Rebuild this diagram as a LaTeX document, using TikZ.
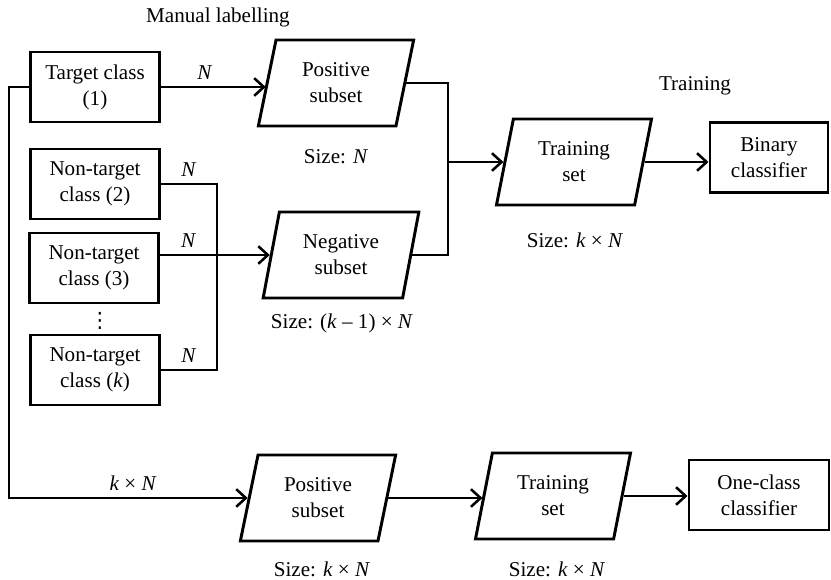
\documentclass[tikz,border=0pt]{standalone}
\usepackage{fontspec}
\setmainfont{Liberation Serif}
\newfontfamily\symfont{DejaVu Sans}
\usepackage{tikz}
\usetikzlibrary{arrows.meta, positioning, shapes.geometric}

\begin{document}
\begin{tikzpicture}[
    x=0.025cm, y=-0.025cm,
    font=\fontsize{15}{18.5}\selectfont,
    cls/.style={draw=black, line width=2.1pt, fill=white,
        minimum width=3.225cm, minimum height=1.75cm, inner sep=0pt, align=center},
    dataset/.style={draw=black, line width=2.1pt, fill=white, trapezium,
        trapezium left angle=76, trapezium right angle=104, trapezium stretches=true,
        minimum width=3.9cm, minimum height=2.15cm, inner sep=0pt, align=center},
    link/.style={line width=2.1pt, draw=black},
    arrow/.style={-{Straight Barb[length=2.4mm, width=4.4mm, line width=1.8pt]}, line width=2.1pt, draw=black}
]
\useasboundingbox (0,0) rectangle (831,580);

% Headings
\node (manual) at (218,17) {Manual labelling};
\node (training) at (695,86) {Training};

% Classes
\node[cls] (target) at (95,87) {Target class\\(1)};
\node[cls] (nt2) at (95,184) {Non-target\\class (2)};
\node[cls] (nt3) at (94,268) {Non-target\\class (3)};
\node[font=\symfont\fontsize{15}{18}\selectfont, inner sep=0pt] (dots) at (100,321) {⋮};
\node[cls] (ntk) at (95,370) {Non-target\\class (\textit{k})};

% Binary branch
\node[dataset] (pos1) at (336,83) {Positive\\subset};
\node[dataset] (neg) at (341,255) {Negative\\subset};
\node[dataset] (train1) at (574,162) {Training\\set};
\node[cls, minimum width=2.95cm] (binary) at (769,157.5) {Binary\\classifier};

% One-class branch
\node[dataset] (pos2) at (318,498) {Positive\\subset};
\node[dataset] (train2) at (553,496) {Training\\set};
\node[cls, minimum width=3.5cm] (oneclass) at (759,495) {One-class\\classifier};

% Sizes
\node (size1) at (336,157) {Size: \textit{N}};
\node (size2) at (342,323) {Size: (\textit{k} – 1) × \textit{N}};
\node (size3) at (575,240) {Size: \textit{k} × \textit{N}};
\node (size4) at (322,569) {Size: \textit{k} × \textit{N}};
\node (size5) at (557,569) {Size: \textit{k} × \textit{N}};

\coordinate (bus) at (217,0);
\coordinate (merge) at (448,0);
\coordinate (spine) at (9,0);

% Labelling
\draw[arrow] (target.east) -- node[above=1pt, pos=.42] {\textit{N}} (target.east -| pos1.west);
\draw[link] (nt2.east) -- node[above=1pt, pos=.5] {\textit{N}} (nt2.east -| bus) -- (ntk.east -| bus)
    -- node[above=1pt, pos=.5] {\textit{N}} (ntk.east);
\draw[arrow] (nt3.east |- neg.west) -- node[above=1pt, pos=.26] {\textit{N}} (neg.west);

% Training set
\draw[link] (pos1.east) -- (pos1.east -| merge) -- (neg.east -| merge) -- (neg.east);
\draw[arrow] (train1.west -| merge) -- (train1.west);
\draw[arrow] (train1.east) -- (train1.east -| binary.west);

% One-class path
\draw[arrow] (target.west) -- (target.west -| spine) |- node[above=1pt, pos=.76] {\textit{k} × \textit{N}} (pos2.west);
\draw[arrow] (pos2.east) -- (pos2.east -| train2.west);
\draw[arrow] (train2.east) -- (train2.east -| oneclass.west);

\end{tikzpicture}
\end{document}
